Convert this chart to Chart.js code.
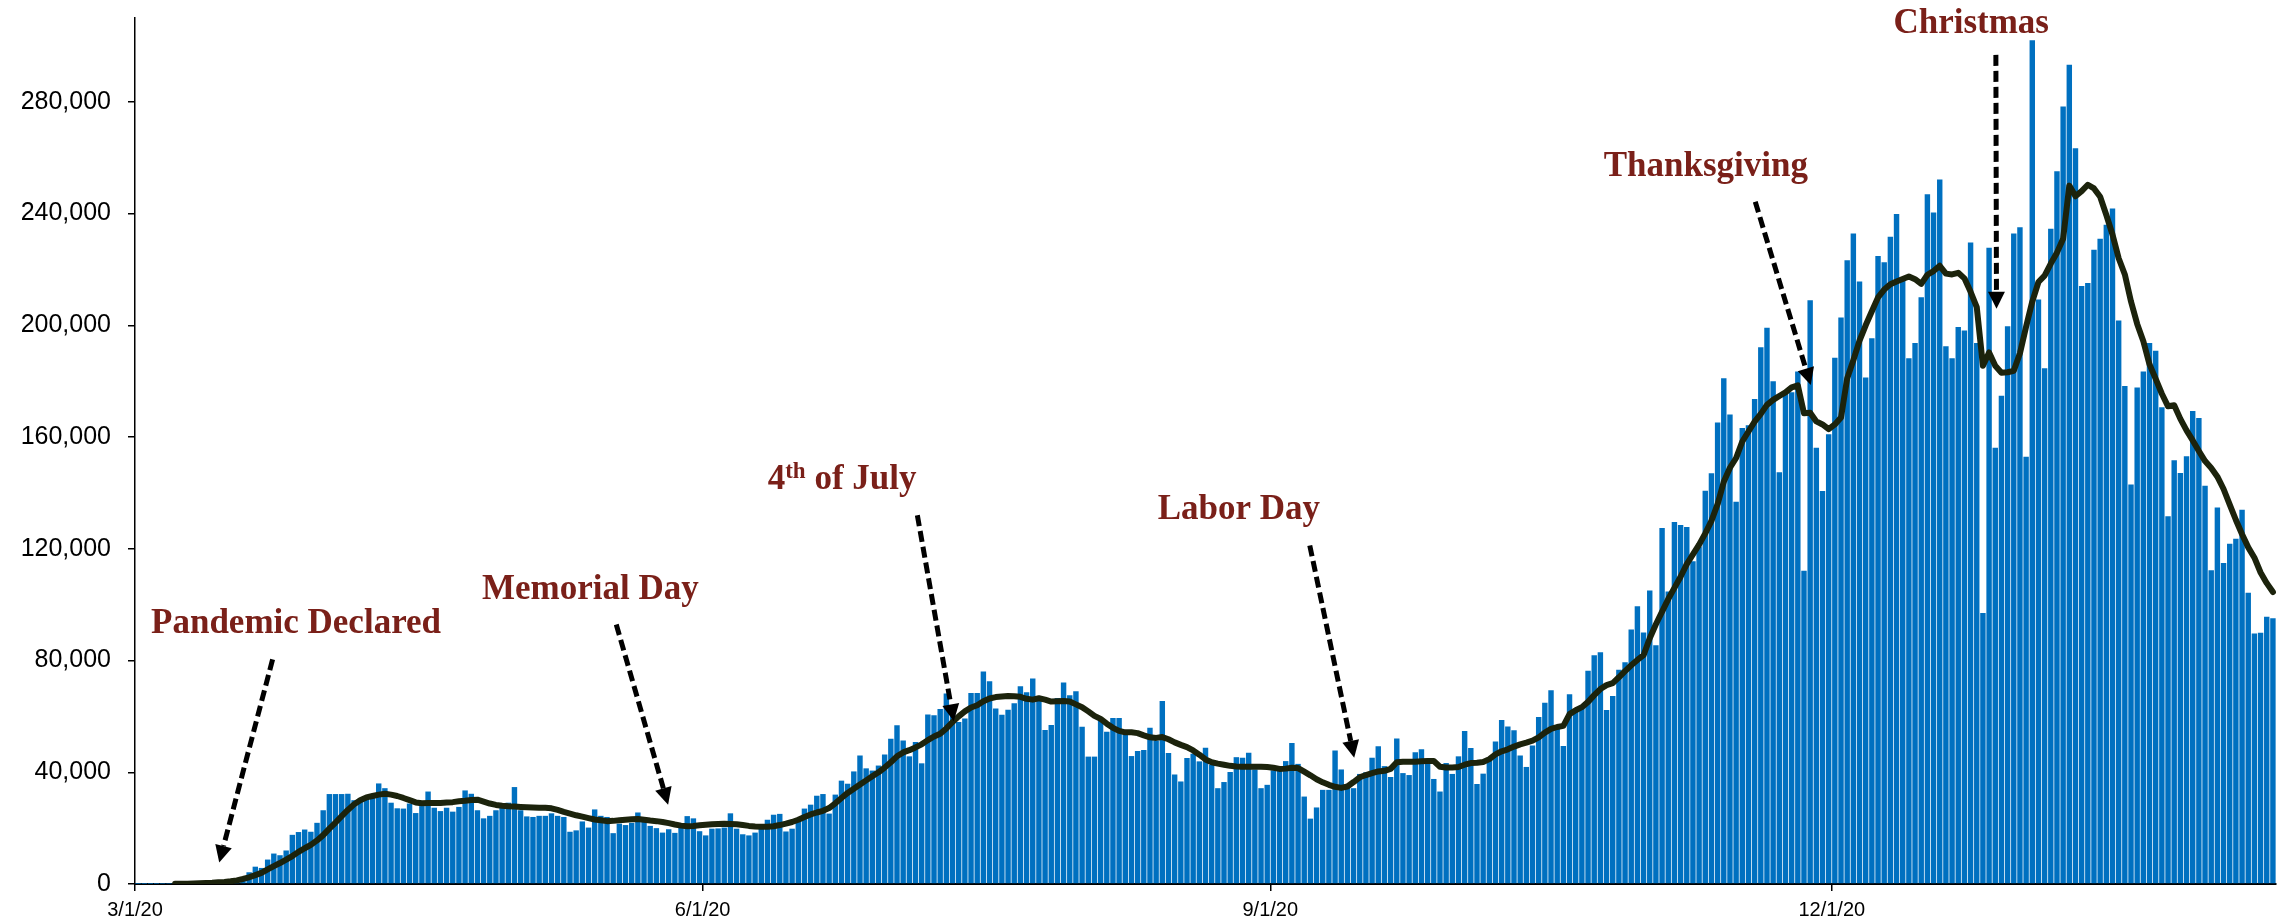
<!DOCTYPE html>
<html>
<head>
<meta charset="utf-8">
<script src="https://cdn.jsdelivr.net/npm/chart.js@4.4.1/dist/chart.umd.min.js"></script>
<style>
  html, body { margin: 0; padding: 0; background: #fff; }
</style>
</head>
<body>
<canvas id="cases" width="2282" height="923"></canvas>
<script>
// first bar is 3/1/20, one bar per day
const startDate = Date.UTC(2020, 2, 1);
const tickLabels = ["3/1/20", "6/1/20", "9/1/20", "12/1/20"];

const dailyCases = [
  10, 20, 25, 30, 60, 80, 110, 120, 170, 280,
  320, 430, 520, 650, 800, 1100, 1600, 2400, 4200, 6200,
  5750, 8750, 10900, 10300, 12000, 17600, 18600, 19500, 18700, 21900,
  26400, 32200, 32200, 32200, 32300, 30000, 30500, 31500, 31000, 36000,
  34300, 29100, 27100, 27000, 28800, 25400, 27900, 33100, 27300, 26100,
  27300, 25900, 27600, 33500, 32300, 26400, 23500, 24400, 26400, 28000,
  29100, 34700, 26400, 24200, 24000, 24400, 24400, 25300, 24400, 24000,
  18700, 19200, 22400, 20200, 26700, 24400, 24000, 18200, 21600, 21100,
  21900, 25600, 23100, 20800, 20000, 18400, 19600, 18300, 20100, 24300,
  23500, 18900, 17400, 19800, 19900, 20200, 25300, 19800, 17800, 17400,
  18400, 19900, 23000, 24800, 25100, 18800, 19800, 22600, 27000, 28400,
  31600, 32200, 25200, 32000, 37000, 35900, 40300, 46000, 41400, 40600,
  42400, 46400, 52000, 56800, 51400, 45700, 50800, 43200, 60700, 60400,
  62600, 68200, 61000, 58000, 59200, 68400, 68400, 76100, 72600, 62800,
  60600, 62400, 64700, 70800, 68600, 73600, 65500, 55100, 56900, 66600,
  72100, 67600, 69000, 56300, 45600, 45600, 58600, 54500, 59400, 59400,
  53800, 45800, 47600, 48000, 55900, 51400, 65500, 46900, 39200, 36700,
  45100, 46600, 43900, 48800, 42700, 34300, 36500, 40100, 45400, 45200,
  47000, 41000, 34300, 35500, 40700, 40500, 44000, 50500, 43000, 31300,
  23400, 27400, 33700, 33700, 47800, 41000, 34600, 34300, 39400, 40000,
  45200, 49300, 42200, 38300, 52100, 39700, 39000, 47200, 48200, 43200,
  37600, 33100, 43300, 39400, 45700, 54800, 48700, 35800, 39500, 44400,
  51000, 58700, 56400, 55000, 46000, 41900, 49600, 59800, 64900, 69400,
  56000, 49400, 67900, 62700, 63400, 76300, 81900, 83000, 62300, 67300,
  76700, 79400, 91100, 99400, 90000, 105100, 85500, 127400, 104700, 129600,
  128500, 127800, 115500, 120800, 140800, 147000, 165200, 181000, 168100, 136800,
  163200, 164200, 173600, 192100, 199100, 180000, 147400, 176100, 176000, 183500,
  112100, 209000, 156200, 140700, 161000, 188400, 202800, 223300, 232900, 215700,
  181300, 195400, 224800, 222600, 231700, 239800, 216000, 188200, 193700, 210000,
  246900, 240400, 252200, 192500, 188200, 199400, 198100, 229600, 193700, 97000,
  227800, 156200, 174800, 199700, 232900, 235100, 152900, 302000, 209200, 184600,
  234600, 255100, 278300, 293300, 263400, 214100, 215100, 227000, 231000, 236000,
  241800, 201700, 178300, 143000, 177700, 183500, 193700, 190900, 170700, 131600,
  151700, 147100, 153100, 169300, 166800, 142600, 112300, 134800, 114900, 121800,
  123600, 134000, 104300, 89700, 89900, 95700, 95100
];

const sevenDayAvg = [
  null, null, null, null, null, null, 50, 80, 120, 180,
  250, 350, 450, 600, 750, 1000, 1300, 1800, 2400, 3200,
  4000, 5200, 6400, 7500, 8700, 10000, 11500, 12800, 14000, 15600,
  17500, 19800, 22000, 24300, 26500, 28500, 30000, 31000, 31500, 32000,
  32300, 32000, 31500, 30800, 30000, 29200, 28900, 29000, 29000, 29000,
  29200, 29300, 29600, 29800, 30100, 30200, 29500, 28800, 28300, 28000,
  27800, 27700, 27600, 27500, 27400, 27300, 27300, 27100, 26500, 25800,
  25200, 24600, 24100, 23600, 23100, 22800, 22500, 22600, 22800, 23000,
  23200, 23300, 23000, 22700, 22500, 22200, 21800, 21300, 20900, 20700,
  20800, 21000, 21200, 21400, 21500, 21600, 21500, 21400, 21100, 20800,
  20600, 20500, 20500, 20700, 21100, 21600, 22200, 23000, 24000, 24900,
  25600, 26200, 27200, 28900, 30800, 32600, 34100, 35600, 37100, 38600,
  40000, 41700, 43600, 45700, 47100, 47900, 48900, 50000, 51500, 52800,
  53800, 55700, 58000, 60000, 61800, 63200, 64000, 65400, 66400, 66900,
  67100, 67300, 67200, 67000, 66300, 66000, 66500, 66000, 65300, 65400,
  65500, 65300, 64300, 63300, 61800, 60200, 59100, 57400, 55900, 54800,
  54300, 54300, 54000, 53200, 52500, 52300, 52600, 51800, 50700, 49800,
  49000, 47800, 46300, 44600, 43600, 43100, 42700, 42300, 42100, 42000,
  42000, 42000, 42000, 41900, 41600, 41200, 41300, 41600, 41500, 40200,
  38900, 37500, 36400, 35500, 34800, 34400, 34900, 36500, 38200, 39000,
  39700, 40300, 40500, 41200, 43600, 43800, 43800, 43800, 43900, 44000,
  44000, 42000, 41700, 41700, 41900, 42700, 43300, 43400, 43700, 44700,
  46400, 47500, 48200, 49200, 50000, 50600, 51300, 52500, 54200, 55500,
  56200, 56600, 60800, 62200, 63300, 65200, 67600, 69800, 71200, 71900,
  74000, 76200, 78300, 80200, 81900, 88000, 93000, 97500, 102000, 106000,
  110000, 114500, 118000, 121500, 125500, 130000, 136000, 144000, 149000, 152500,
  158400, 162000, 165500, 168300, 171500, 173300, 174700, 176000, 177800, 178500,
  168500, 168700, 165600, 164500, 162800, 164500, 167000, 181000, 187500, 194500,
  200000, 205000, 210000, 212800, 214700, 215700, 216600, 217500, 216500, 214800,
  218100, 219400, 221300, 218500, 218200, 218800, 216800, 212000, 206500, 185500,
  190300, 185500, 183000, 183200, 183700, 190000, 199500, 208500, 215500, 217800,
  222100, 226000, 231000, 250000, 246200, 248000, 250300, 249000, 246000, 239500,
  232500, 224000, 218200, 208500, 200500, 194300, 186000, 180800, 175500, 171000,
  171400, 166500, 162400, 158800, 155000, 151400, 148900, 145800, 141400, 135800,
  130300, 125200, 120500, 116800, 111500, 107700, 104500
];

// holiday notes, placed in data units (day index, case count)
const holidays = [
  { parts: [["Pandemic Declared"]], textDay: 26.1, textValue: 89700, from: [22.3, 80400], to: [13.65, 7700] },
  { parts: [["Memorial Day"]], textDay: 73.8, textValue: 102100, from: [78.0, 92900], to: [86.4, 28400] },
  { parts: [["4"], ["th", true], [" of July"]], textDay: 114.6, textValue: 141300, from: [126.8, 132000], to: [132.7, 58300] },
  { parts: [["Labor Day"]], textDay: 178.9, textValue: 130800, from: [190.4, 121200], to: [197.6, 45200] },
  { parts: [["Thanksgiving"]], textDay: 254.6, textValue: 253600, from: [262.6, 244200], to: [271.6, 178600] },
  { parts: [["Christmas"]], textDay: 297.6, textValue: 304600, from: [301.6, 296800], to: [301.7, 205900] }
];

const dayOf = (s) => {
  const [m, d, y] = s.split("/").map(Number);
  return Math.round((Date.UTC(2000 + y, m - 1, d) - startDate) / 864e5);
};
const tickDays = tickLabels.map(dayOf);

const mainFont = "bold 35px 'Liberation Serif', 'Times New Roman', serif";
const supFont = "bold 23px 'Liberation Serif', 'Times New Roman', serif";

const holidayNotes = {
  id: "holidayNotes",
  afterDraw(chart) {
    const { ctx, scales: { x, y } } = chart;
    ctx.save();
    holidays.forEach((h) => {
      // label
      ctx.fillStyle = "#7a2019";
      ctx.textBaseline = "alphabetic";
      ctx.textAlign = "left";
      let total = 0;
      h.parts.forEach(([t, sup]) => {
        ctx.font = sup ? supFont : mainFont;
        total += ctx.measureText(t).width;
      });
      let tx = x.getPixelForValue(h.textDay) - total / 2;
      const ty = y.getPixelForValue(h.textValue);
      h.parts.forEach(([t, sup]) => {
        ctx.font = sup ? supFont : mainFont;
        ctx.fillText(t, tx, sup ? ty - 11 : ty);
        tx += ctx.measureText(t).width;
      });

      // dashed arrow
      const x0 = x.getPixelForValue(h.from[0]), y0 = y.getPixelForValue(h.from[1]);
      const x1 = x.getPixelForValue(h.to[0]), y1 = y.getPixelForValue(h.to[1]);
      const ang = Math.atan2(y1 - y0, x1 - x0);
      const headLen = 17, headHalf = 8.5;
      const bx = x1 - headLen * Math.cos(ang), by = y1 - headLen * Math.sin(ang);
      ctx.strokeStyle = "#000";
      ctx.fillStyle = "#000";
      ctx.lineWidth = 5;
      ctx.setLineDash([11, 5]);
      ctx.beginPath();
      ctx.moveTo(x0, y0);
      ctx.lineTo(bx, by);
      ctx.stroke();
      ctx.setLineDash([]);
      ctx.beginPath();
      ctx.moveTo(x1, y1);
      ctx.lineTo(bx + headHalf * Math.sin(ang), by - headHalf * Math.cos(ang));
      ctx.lineTo(bx - headHalf * Math.sin(ang), by + headHalf * Math.cos(ang));
      ctx.closePath();
      ctx.fill();
    });
    ctx.restore();
  }
};

const cases = document.getElementById("cases");

new Chart(cases, {
  type: "bar",
  data: {
    datasets: [
      {
        type: "line",
        label: "7-day average",
        data: sevenDayAvg.map((v, i) => ({ x: i + 0.5, y: v })),
        borderColor: "#1c230c",
        borderWidth: 6,
        borderJoinStyle: "round",
        borderCapStyle: "round",
        pointRadius: 0,
        tension: 0,
        order: 0,
      },
      {
        type: "bar",
        label: "Daily cases",
        data: dailyCases.map((v, i) => ({ x: i + 0.5, y: v })),
        backgroundColor: "#0070c0",
        barPercentage: 0.88,
        categoryPercentage: 1,
        order: 1,
      },
    ],
  },
  options: {
    responsive: false,
    animation: false,
    devicePixelRatio: 1,
    layout: { padding: { top: 18, right: 6, left: 0, bottom: 0 }, autoPadding: false },
    plugins: {
      legend: { display: false },
      tooltip: { enabled: false },
    },
    scales: {
      x: {
        type: "linear",
        min: 0,
        max: dailyCases.length,
        offset: false,
        afterBuildTicks: (s) => { s.ticks = tickDays.map((v) => ({ value: v })); },
        afterFit: (s) => { s.height = 39; s.paddingLeft = 0; s.paddingRight = 0; },
        grid: { offset: false, drawOnChartArea: false, tickLength: 7, color: "#000", lineWidth: 1.5 },
        border: { color: "#000", width: 2 },
        ticks: {
          autoSkip: false,
          maxRotation: 0,
          padding: 7,
          color: "#000",
          font: { family: "'Liberation Sans', Arial, sans-serif", size: 20 },
          callback: (v, i) => tickLabels[i],
        },
      },
      y: {
        min: 0,
        max: 310000,
        afterBuildTicks: (s) => {
          const t = [];
          for (let v = 0; v <= 280000; v += 40000) t.push({ value: v });
          s.ticks = t;
        },
        afterFit: (s) => { s.width = 135; s.paddingTop = 0; s.paddingBottom = 0; },
        grid: { drawOnChartArea: false, tickLength: 7, color: "#000", lineWidth: 1.5 },
        border: { color: "#000", width: 1.5 },
        ticks: {
          padding: 17,
          color: "#000",
          font: { family: "'Liberation Sans', Arial, sans-serif", size: 25 },
          callback: (v) => v.toLocaleString("en-US"),
        },
      },
    },
  },
  plugins: [holidayNotes],
});
</script>
</body>
</html>
